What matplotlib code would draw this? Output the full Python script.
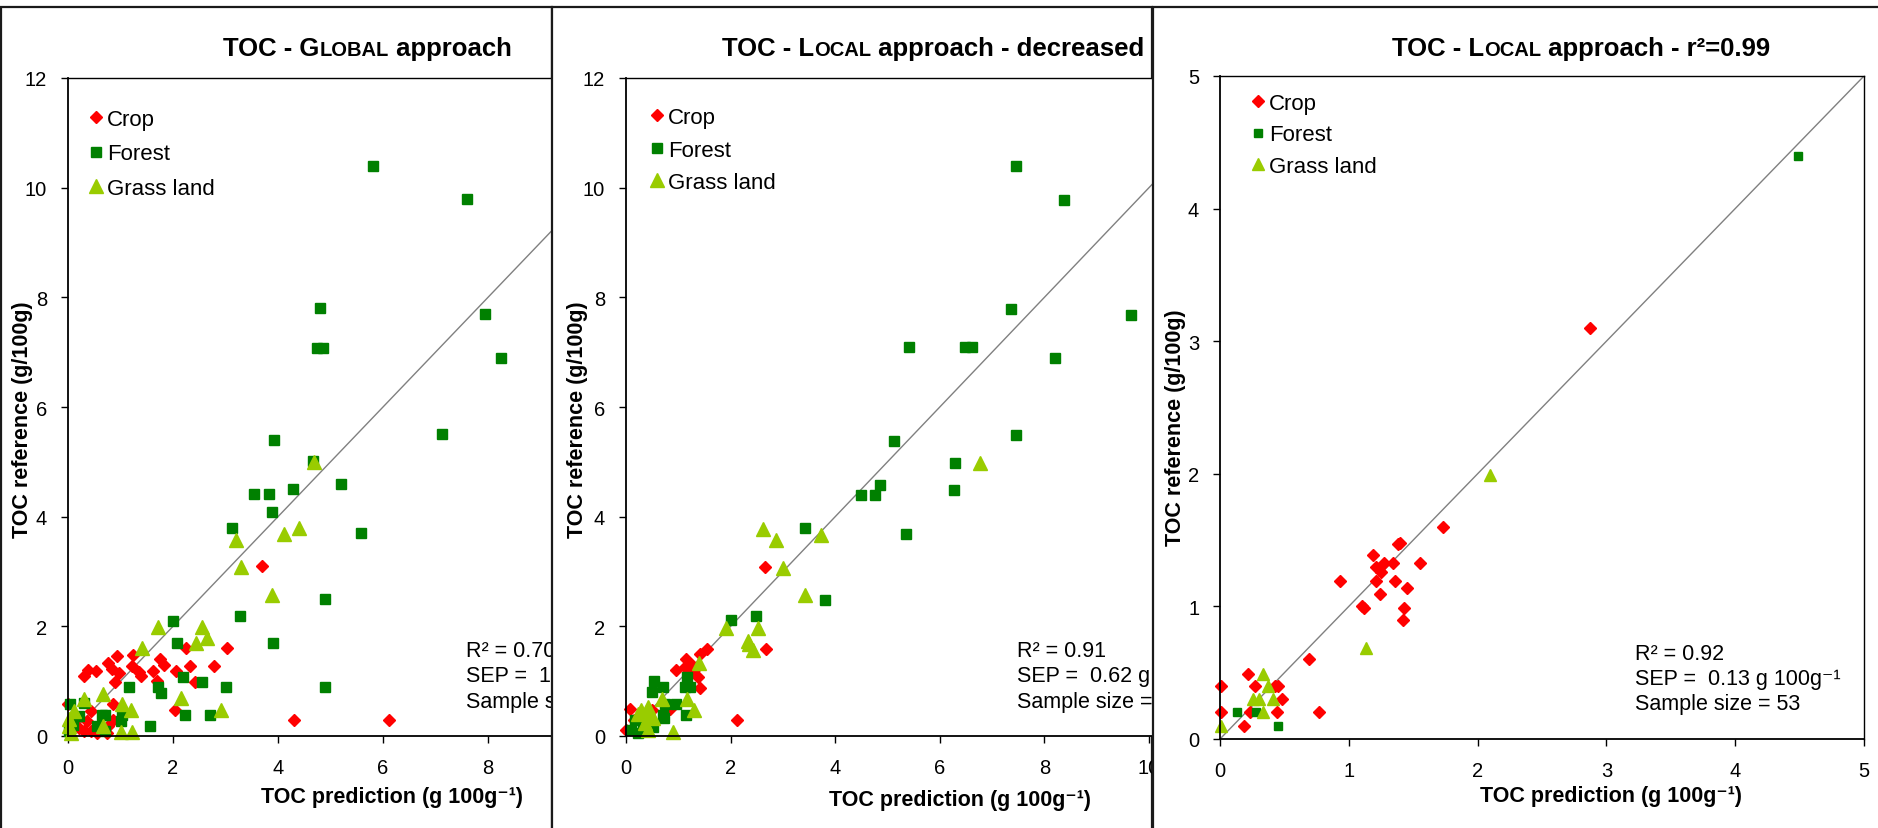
import matplotlib
matplotlib.use("Agg")
import matplotlib.pyplot as plt
from matplotlib.patches import Rectangle
from matplotlib.font_manager import FontProperties

plt.rcParams['font.family'] = ['Liberation Sans', 'DejaVu Sans']

series_names = ["Crop", "Forest", "Grass land"]

# panel 1 - global approach
crop1_x = [3.70, 3.02, 2.25, 2.32, 2.79, 2.06, 1.75, 1.82, 1.62, 1.23, 1.21, 1.35, 1.39, 0.93, 0.77,
           0.84, 0.97, 0.90, 0.54, 0.39, 0.30, 1.70, 2.41, 0.86, 2.04, 4.30, 6.11, 0.44, 0.36, 0.30,
           0.43, 0.77, 0.74, 0.00, 0.11, 0.20, 0.55, 0.85]
crop1_y = [3.10, 1.60, 1.60, 1.28, 1.28, 1.18, 1.41, 1.30, 1.19, 1.47, 1.28, 1.16, 1.09, 1.46, 1.33,
           1.22, 1.14, 0.99, 1.19, 1.21, 1.09, 1.01, 0.98, 0.59, 0.48, 0.29, 0.29, 0.46, 0.28, 0.09,
           0.09, 0.18, 0.06, 0.58, 0.31, 0.15, 0.05, 0.30]
forest1_x = [5.80, 7.60, 4.80, 4.75, 4.85, 7.95, 8.25, 7.12, 3.93, 4.67, 5.20, 3.54, 3.82, 4.28, 3.89,
             3.13, 5.58, 4.89, 3.27, 2.00, 2.08, 3.90, 2.19, 2.55, 3.01, 4.90, 1.16, 1.71, 1.77, 2.22,
             2.70, 1.57, 0.71, 0.65, 1.03, 1.00, 0.55, 0.04, 0.30, 0.01, 0.20, 0.71, 0.10]
forest1_y = [10.40, 9.80, 7.80, 7.07, 7.07, 7.70, 6.90, 5.51, 5.40, 5.01, 4.59, 4.41, 4.41, 4.50, 4.09,
             3.80, 3.70, 2.49, 2.19, 2.10, 1.69, 1.69, 1.08, 0.99, 0.89, 0.89, 0.89, 0.90, 0.78, 0.38,
             0.38, 0.18, 0.38, 0.38, 0.39, 0.28, 0.18, 0.58, 0.60, 0.09, 0.37, 0.09, 0.20]
grass1_x = [4.69, 4.40, 4.11, 3.20, 3.29, 3.89, 1.71, 2.55, 2.65, 2.44, 1.41, 0.67, 2.16, 2.92, 0.30,
            1.03, 1.20, 1.00, 1.22, 0.11, 0.01, 0.01, 0.67, 0.05]
grass1_y = [4.99, 3.80, 3.68, 3.57, 3.08, 2.58, 1.99, 1.99, 1.79, 1.69, 1.60, 0.76, 0.69, 0.48, 0.67,
            0.58, 0.48, 0.07, 0.07, 0.46, 0.31, 0.18, 0.18, 0.05]

# panel 2 - local approach, decreased range
crop2_x = [2.66, 2.68, 2.13, 1.55, 1.42, 1.14, 0.95, 1.12, 1.27, 1.38, 1.41, 0.84, 0.07, 0.00, 0.49,
           1.19, 1.30, 0.15]
crop2_y = [3.09, 1.59, 0.30, 1.59, 1.49, 1.40, 1.20, 1.26, 1.29, 1.08, 0.88, 0.50, 0.50, 0.11, 0.47,
           1.14, 1.20, 0.30]
forest2_x = [7.45, 8.37, 7.36, 9.66, 5.42, 6.49, 6.61, 8.20, 7.45, 5.13, 6.30, 4.85, 4.50, 4.76, 6.28,
             5.36, 3.42, 3.81, 2.48, 2.01, 0.54, 0.49, 0.71, 1.16, 1.22, 1.12, 0.96, 0.74, 0.73, 1.14,
             0.17, 0.10, 0.33, 0.52, 0.23, 0.71]
forest2_y = [10.39, 9.78, 7.79, 7.68, 7.09, 7.09, 7.09, 6.89, 5.49, 5.38, 4.98, 4.58, 4.39, 4.39, 4.49,
             3.69, 3.79, 2.48, 2.18, 2.11, 1.00, 0.80, 0.90, 1.08, 0.90, 0.90, 0.59, 0.59, 0.32, 0.38,
             0.29, 0.11, 0.17, 0.17, 0.05, 0.38]
grass2_x = [6.76, 2.61, 2.87, 3.73, 3.01, 3.42, 1.92, 2.53, 2.33, 2.35, 2.43, 1.40, 1.16, 0.69, 1.30,
            0.90, 0.29, 0.42, 0.42, 0.36, 0.52, 0.42, 0.23]
grass2_y = [4.97, 3.77, 3.57, 3.67, 3.07, 2.58, 1.97, 1.97, 1.74, 1.68, 1.57, 1.33, 0.68, 0.68, 0.47,
            0.08, 0.47, 0.53, 0.35, 0.23, 0.32, 0.11, 0.41]

# panel 3 - local approach, r2=0.99
crop3_x = [2.87, 1.73, 1.38, 1.40, 1.19, 1.55, 1.34, 1.27, 1.21, 1.25, 0.93, 1.21, 1.36, 1.45, 1.24,
           1.12, 1.10, 1.43, 1.42, 0.69, 0.22, 0.01, 0.27, 0.43, 0.45, 0.48, 0.01, 0.23, 0.44, 0.77,
           0.19]
crop3_y = [3.10, 1.60, 1.47, 1.48, 1.39, 1.33, 1.33, 1.33, 1.30, 1.26, 1.19, 1.19, 1.19, 1.14, 1.09,
           0.99, 1.00, 0.99, 0.90, 0.60, 0.49, 0.40, 0.40, 0.40, 0.40, 0.30, 0.20, 0.20, 0.20, 0.20,
           0.10]
forest3_x = [4.49, 0.13, 0.28, 0.45]
forest3_y = [4.40, 0.20, 0.20, 0.10]
grass3_x = [2.10, 1.13, 0.33, 0.37, 0.26, 0.30, 0.41, 0.33, 0.01]
grass3_y = [1.99, 0.69, 0.49, 0.40, 0.30, 0.30, 0.30, 0.20, 0.10]

stats1 = ["R² = 0.70", "SEP =  1", "Sample s"]
stats2 = ["R² = 0.91", "SEP =  0.62 g 100g⁻¹", "Sample size ="]
stats3 = ["R² = 0.92", "SEP =  0.13 g 100g⁻¹", "Sample size = 53"]

colors = ["#FF0000", "#008000", "#99CC00"]
markers = ["D", "s", "^"]

W, H = 1878, 829
fig = plt.figure(figsize=(W / 100, H / 100), dpi=100)


def fx(px):
    return px / W


def fy(py):
    return 1 - py / H


renderer = fig.canvas.get_renderer()


def text_w(s, size):
    # width in pixels of a bold string, keeping leading / trailing spaces
    fp = FontProperties(family=['Liberation Sans', 'DejaVu Sans'], weight='bold', size=size)
    w1 = renderer.get_text_width_height_descent("|" + s + "|", fp, ismath=False)[0]
    w0 = renderer.get_text_width_height_descent("||", fp, ismath=False)[0]
    return w1 - w0


# layout of the three cropped excel charts (pixels)
panels = [
    dict(frame=(1, 552), plot=(68, 68 + 12 * 52.5, 79, 737), lim=(12, 12), step=2,
         series=[(crop1_x, crop1_y), (forest1_x, forest1_y), (grass1_x, grass1_y)],
         title=[("TOC - G", 18.5), ("LOBAL", 14.5), (" approach", 18.5)], title_x=223,
         leg=(89, 110, 0.6), stats=stats1, stats_pos=(466, [652, 677, 703]),
         ylab=(23, 420), xlab=(392, 798), ms=(6.6, 7.3, 9.5)),
    dict(frame=(552, 1152), plot=(626, 626 + 12 * 52.3, 79, 737), lim=(12, 12), step=2,
         series=[(crop2_x, crop2_y), (forest2_x, forest2_y), (grass2_x, grass2_y)],
         title=[("TOC - L", 18.5), ("OCAL", 14.5), (" approach - decreased r", 18.5)], title_x=722,
         leg=(650, 108, 0.52), stats=stats2, stats_pos=(1017, [652, 677, 703]),
         ylab=(578, 420), xlab=(960, 801), ms=(6.6, 7.3, 9.5)),
    dict(frame=(1153, 1900), plot=(1220, 1864, 77, 740), lim=(5, 5), step=1,
         series=[(crop3_x, crop3_y), (forest3_x, forest3_y), (grass3_x, grass3_y)],
         title=[("TOC - L", 18.5), ("OCAL", 14.5), (" approach - r²=0.99", 18.5)], title_x=1392,
         leg=(1251, 94, 0.47), stats=stats3, stats_pos=(1635, [655, 680, 705]),
         ylab=(1175, 428), xlab=(1611, 797), ms=(6.6, 6.0, 9.0)),
]

for k, p in enumerate(panels):
    z = 10 * k
    # white chart area with its border, hides whatever spills over from the chart on the left
    f0, f1 = p["frame"]
    fig.add_artist(Rectangle((fx(f0), fy(840)), fx(f1) - fx(f0), fy(8) - fy(840),
                             transform=fig.transFigure, facecolor="white",
                             edgecolor="#1a1a1a", lw=1.6, zorder=z))

    l, r, t, b = p["plot"]
    ax = fig.add_axes([fx(l), fy(b), fx(r) - fx(l), fy(t) - fy(b)])
    ax.set_zorder(z + 1)
    ax.patch.set_facecolor("white")

    xmax, ymax = p["lim"]
    ax.plot([0, xmax], [0, ymax], color="#808080", lw=1.0, zorder=1)
    for (xs, ys), name, c, m, ms in zip(p["series"], series_names, colors, markers, p["ms"]):
        ax.plot(xs, ys, ls="none", marker=m, ms=ms, color=c, mec=c, label=name, zorder=2,
                clip_on=False)

    ax.set_xlim(0, xmax)
    ax.set_ylim(0, ymax)
    ax.set_xticks(range(0, xmax + 1, p["step"]))
    ax.set_yticks(range(0, ymax + 1, p["step"]))
    ax.tick_params(direction="out", length=5, width=1, labelsize=14.5, colors="black")
    ax.tick_params(axis="y", pad=10)
    ax.tick_params(axis="x", pad=11)
    for side in ["left", "bottom"]:
        ax.spines[side].set_linewidth(1.3)
    for side in ["top", "right"]:
        ax.spines[side].set_linewidth(1.0)

    lx, ly, lsp = p["leg"]
    ax.legend(loc="upper left", bbox_to_anchor=(fx(lx), fy(ly)), bbox_transform=fig.transFigure,
              frameon=False, fontsize=16, borderpad=0, borderaxespad=0, handlelength=0.6,
              handletextpad=0.2, labelspacing=lsp, markerscale=1.0, numpoints=1)

    # title with small caps
    xpos = p["title_x"]
    for txt, size in p["title"]:
        fig.text(fx(xpos), fy(56), txt, fontsize=size, fontweight="bold", va="baseline",
                 ha="left", zorder=z + 2)
        xpos += text_w(txt, size)

    sx, rows = p["stats_pos"]
    for line, yy in zip(p["stats"], rows):
        fig.text(fx(sx), fy(yy), line, fontsize=15.5, va="center", ha="left", zorder=z + 2)

    yx, yy = p["ylab"]
    fig.text(fx(yx), fy(yy), "TOC reference (g/100g)", rotation=90, fontsize=15.5,
             fontweight="bold", ha="center", va="center", zorder=z + 2)
    xx, xy = p["xlab"]
    fig.text(fx(xx), fy(xy), "TOC prediction (g 100g⁻¹)", fontsize=15.5,
             fontweight="bold", ha="center", va="center", zorder=z + 2)

fig.savefig("out.png", dpi=100, facecolor="white")
